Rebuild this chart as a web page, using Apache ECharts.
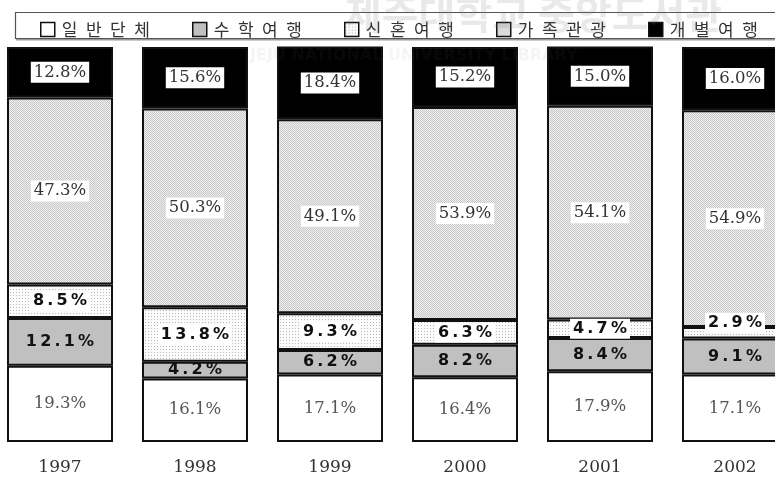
<!DOCTYPE html>
<html>
<head>
<meta charset="utf-8">
<script src="https://cdn.jsdelivr.net/npm/echarts@6/dist/echarts.min.js"></script>
<style>
  html, body { margin: 0; padding: 0; background: #fff; }
  #chart { width: 775px; height: 478px; }
</style>
</head>
<body>
<div id="chart"></div>
<script>
// values (percent of visitors per year)
var years = ['1997', '1998', '1999', '2000', '2001', '2002'];
var seriesNames = ['일반단체', '수학여행', '신혼여행', '가족관광', '개별여행'];
var groupTour = [19.3, 16.1, 17.1, 16.4, 17.9, 17.1];
var schoolTrip = [12.1, 4.2, 6.2, 8.2, 8.4, 9.1];
var honeymoon = [8.5, 13.8, 9.3, 6.3, 4.7, 2.9];
var familyTour = [47.3, 50.3, 49.1, 53.9, 54.1, 54.9];
var individual = [12.8, 15.6, 18.4, 15.2, 15.0, 16.0];

// small repeating canvas used as a dotted fill
function makePattern(size, bg, dot, cells) {
    var c = document.createElement('canvas');
    c.width = size;
    c.height = size;
    var ctx = c.getContext('2d');
    ctx.fillStyle = bg;
    ctx.fillRect(0, 0, size, size);
    ctx.fillStyle = dot;
    cells.forEach(function (p) { ctx.fillRect(p[0], p[1], 1, 1); });
    return { image: c, repeat: 'repeat' };
}

var familyFill = makePattern(2, '#eeeeee', '#c9c9c9', [[0, 0], [1, 1]]);
var honeyFill = makePattern(3, '#fbfbfb', '#b8b8b8', [[1, 1]]);

var pct = function (p) { return p.value.toFixed(1) + '%'; };
var spaced = function (p) { return (p.value.toFixed(1) + '%').split('').join('\u2009'); };

var serifLabel = {
    show: true,
    formatter: pct,
    fontFamily: 'DejaVu Serif',
    fontSize: 16.5,
    color: '#333'
};
var boxedSerif = Object.assign({}, serifLabel, {
    backgroundColor: '#fff',
    padding: [2, 3]
});
var boldLabel = {
    show: true,
    formatter: spaced,
    fontFamily: 'DejaVu Sans',
    fontWeight: 'bold',
    fontSize: 16,
    color: '#111'
};

function barSeries(name, values, fill, label) {
    return {
        name: name,
        type: 'bar',
        stack: 'all',
        barWidth: 106,
        data: values,
        itemStyle: { color: fill, borderColor: '#111', borderWidth: 2 },
        label: label
    };
}

var series = [
    barSeries(seriesNames[0], groupTour, '#ffffff', Object.assign({}, serifLabel, { color: '#555' })),
    barSeries(seriesNames[1], schoolTrip, '#c0c0c0', boldLabel),
    barSeries(seriesNames[2], honeymoon.map(function (v) {
        // very thin slices carry their label a bit above the slice
        return v < 4 ? { value: v, label: { offset: [0, -10] } } : v;
    }), honeyFill, Object.assign({}, boldLabel, { backgroundColor: '#fff', padding: [2, 3] })),
    barSeries(seriesNames[3], familyTour, familyFill, boxedSerif),
    barSeries(seriesNames[4], individual, '#000000', boxedSerif)
];

var legends = seriesNames.map(function (n, i) {
    return {
        data: [{ name: n, icon: 'rect' }],
        left: 35 + i * 152,
        top: 16,
        itemWidth: 14,
        itemHeight: 14,
        itemGap: 0,
        selectedMode: false,
        itemStyle: { borderWidth: 1.5, borderColor: '#111' },
        textStyle: { fontFamily: 'Noto Sans CJK KR', fontSize: 17, color: '#333', padding: [0, 0, 0, 2] },
        formatter: function (name) { return name.split('').join('\u2002'); }
    };
});

var option = {
    animation: false,
    backgroundColor: '#fff',
    legend: legends,
    grid: { left: -7.5, width: 810, top: 47, bottom: 36, containLabel: false, outerBoundsMode: 'none' },
    xAxis: {
        type: 'category',
        data: years,
        axisLine: { show: false },
        axisTick: { show: false },
        axisLabel: { margin: 17, fontFamily: 'DejaVu Serif', fontSize: 17, color: '#333' }
    },
    yAxis: { type: 'value', min: 0, max: 100, show: false, splitLine: { show: false } },
    graphic: [
        {
            type: 'rect', z: -1,
            shape: { x: 15.5, y: 12.5, width: 790, height: 26 },
            style: { fill: '#fff', stroke: '#555', lineWidth: 1.2 }
        },
        {
            type: 'rect', z: -1,
            shape: { x: 16, y: 39, width: 790, height: 1.5 },
            style: { fill: '#999' }
        },
        // faint library watermark printed over the source page
        {
            type: 'text', z: 100, silent: true,
            style: {
                x: 345, y: 34, text: '제주대학교 중앙도서관',
                font: 'bold 40px "Noto Sans CJK KR"',
                fill: 'rgba(120,120,120,0.16)', textVerticalAlign: 'bottom'
            }
        },
        {
            type: 'text', z: 100, silent: true,
            style: {
                x: 250, y: 56, text: 'JEJU NATIONAL UNIVERSITY LIBRARY',
                font: 'bold 16px "DejaVu Sans"',
                fill: 'rgba(120,120,120,0.07)', textVerticalAlign: 'middle'
            }
        }
    ],
    series: series
};

var chart = echarts.init(document.getElementById('chart'));
chart.setOption(option);
window.addEventListener('resize', function () { chart.resize(); });
</script>
</body>
</html>
